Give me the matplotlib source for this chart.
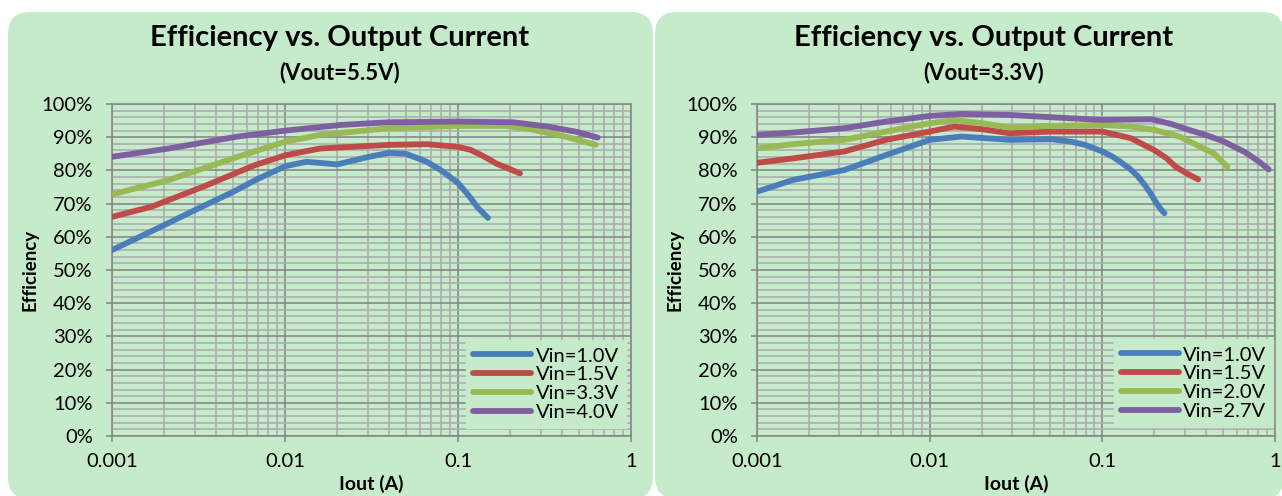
import numpy as np
import matplotlib.pyplot as plt
import matplotlib.transforms as mtransforms
from matplotlib.patches import FancyBboxPatch
from matplotlib.ticker import MultipleLocator, FixedLocator, NullFormatter

plt.rcParams['font.family'] = ['Lato', 'DejaVu Sans']

# Vout = 5.5V, efficiency (%) vs output current (A)
iout_a1 = [0.001, 0.002, 0.003, 0.005, 0.007, 0.0101, 0.0133, 0.020, 0.030, 0.040, 0.050, 0.066, 0.080, 0.100, 0.115, 0.130, 0.149]
eff_a1 = [56.0, 63.5, 68.0, 73.5, 77.5, 81.3, 82.6, 81.8, 84.0, 85.3, 85.0, 82.6, 80.0, 76.2, 72.5, 68.8, 65.7]
iout_a2 = [0.001, 0.0017, 0.00337, 0.00671, 0.0101, 0.016, 0.040, 0.066, 0.100, 0.118, 0.140, 0.166, 0.195, 0.228]
eff_a2 = [66.0, 69.1, 75.1, 81.6, 84.6, 86.6, 87.7, 87.9, 87.1, 86.2, 84.3, 82.1, 80.6, 79.1]
iout_a3 = [0.001, 0.00213, 0.00533, 0.0101, 0.016, 0.040, 0.100, 0.190, 0.262, 0.415, 0.626]
eff_a3 = [72.8, 77.1, 84.1, 88.7, 90.7, 92.7, 93.4, 93.4, 92.4, 90.2, 87.7]
iout_a4 = [0.001, 0.00213, 0.00533, 0.0101, 0.0211, 0.040, 0.100, 0.208, 0.330, 0.476, 0.641]
eff_a4 = [84.1, 86.6, 90.2, 92.0, 93.7, 94.5, 94.7, 94.5, 93.2, 91.7, 89.9]
labels_a = ['Vin=1.0V', 'Vin=1.5V', 'Vin=3.3V', 'Vin=4.0V']

# Vout = 3.3V
iout_b1 = [0.001, 0.00161, 0.0032, 0.00558, 0.010, 0.0153, 0.029, 0.051, 0.0668, 0.0805, 0.100, 0.115, 0.127, 0.145, 0.160, 0.175, 0.190, 0.205, 0.218, 0.229]
eff_b1 = [73.6, 77.1, 80.1, 84.6, 89.2, 90.2, 89.2, 89.4, 88.6, 87.6, 85.7, 84.1, 82.6, 80.4, 78.3, 75.8, 73.1, 70.3, 68.3, 67.1]
iout_b2 = [0.001, 0.00161, 0.0032, 0.00558, 0.010, 0.0139, 0.0202, 0.029, 0.051, 0.100, 0.146, 0.200, 0.235, 0.266, 0.310, 0.359]
eff_b2 = [82.3, 83.6, 85.7, 89.2, 91.7, 93.2, 92.4, 91.2, 91.7, 91.7, 89.7, 86.1, 83.7, 81.1, 79.0, 77.3]
iout_b3 = [0.001, 0.00161, 0.0032, 0.00558, 0.010, 0.014, 0.0202, 0.029, 0.051, 0.100, 0.146, 0.200, 0.279, 0.350, 0.442, 0.530]
eff_b3 = [86.6, 87.9, 89.2, 91.7, 94.2, 95.2, 94.2, 92.9, 93.4, 93.7, 93.2, 92.2, 90.2, 87.7, 85.1, 81.1]
iout_b4 = [0.001, 0.00161, 0.0032, 0.00558, 0.010, 0.0153, 0.029, 0.051, 0.100, 0.192, 0.250, 0.318, 0.400, 0.500, 0.670, 0.800, 0.920]
eff_b4 = [90.7, 91.4, 92.7, 94.7, 96.4, 97.0, 96.7, 96.0, 95.2, 95.4, 94.0, 92.2, 90.6, 88.8, 85.5, 82.8, 80.3]
labels_b = ['Vin=1.0V', 'Vin=1.5V', 'Vin=2.0V', 'Vin=2.7V']

colors = ['#4A7EBB', '#BE4B48', '#98B954', '#7D60A0']
panel_bg = '#C6EBCB'

x_ticks = [0.001, 0.01, 0.1, 1]
x_ticklabels = ['0.001', '0.01', '0.1', '1']

fig = plt.figure(figsize=(12.82, 4.96), dpi=100)

# rounded green backgrounds (pixel coordinates)
for x0, x1 in [(8, 653), (655, 1284)]:
    fig.patches.append(FancyBboxPatch((x0, -3), x1 - x0, 487,
                                      boxstyle='round,pad=0,rounding_size=22',
                                      transform=mtransforms.IdentityTransform(),
                                      facecolor=panel_bg, edgecolor='none', zorder=-10))


def draw_panel(ax, series, labels, legend_anchor):
    ax.set_facecolor('none')
    for (x, y), lab, c in zip(series, labels, colors):
        ax.plot(x, y, color=c, lw=4.2, solid_capstyle='round',
                solid_joinstyle='round', label=lab, zorder=3)
    ax.set_xscale('log')
    ax.set_xlim(0.001, 1)
    ax.set_ylim(0, 100)
    ax.set_xticks(x_ticks)
    ax.set_xticklabels(x_ticklabels)
    ax.xaxis.set_minor_locator(FixedLocator(
        [m * 10.0 ** e for e in (-3, -2, -1) for m in range(2, 10)]))
    ax.xaxis.set_minor_formatter(NullFormatter())
    ax.yaxis.set_minor_locator(MultipleLocator(2))
    ax.set_yticks(range(0, 101, 10))
    ax.set_yticklabels([f'{v}%' for v in range(0, 101, 10)])
    ax.grid(which='minor', color='#ADADAD', lw=1.2, zorder=1)
    ax.grid(which='major', color='#888888', lw=1.2, zorder=1)
    ax.tick_params(which='major', length=4.3, color='#888888', width=1.2,
                   labelsize=14.5)
    ax.tick_params(which='minor', length=0)
    ax.tick_params(axis='y', pad=9.5)
    ax.tick_params(axis='x', pad=8)
    for s in ax.spines.values():
        s.set_color('#888888')
        s.set_linewidth(1.2)
    leg = ax.legend(loc='lower right', bbox_to_anchor=legend_anchor,
                    borderaxespad=0, fontsize=14.5, handlelength=2.9,
                    handletextpad=0.2, labelspacing=0.08, borderpad=0.35,
                    fancybox=False, framealpha=1)
    leg.get_frame().set_facecolor(panel_bg)
    leg.get_frame().set_edgecolor(panel_bg)
    leg.set_zorder(5)


ax1 = fig.add_axes([112 / 1282, 60 / 496, 519 / 1282, 332 / 496])
draw_panel(ax1, [(iout_a1, eff_a1), (iout_a2, eff_a2), (iout_a3, eff_a3), (iout_a4, eff_a4)],
           labels_a, (0.99, 0.025))

ax2 = fig.add_axes([757 / 1282, 60 / 496, 518 / 1282, 332 / 496])
draw_panel(ax2, [(iout_b1, eff_b1), (iout_b2, eff_b2), (iout_b3, eff_b3), (iout_b4, eff_b4)],
           labels_b, (0.997, 0.028))

# titles and axis names
for cx, sub, ylx, xlx in [(340, '(Vout=5.5V)', 30, 371), (984, '(Vout=3.3V)', 675, 1016)]:
    fig.text(cx / 1282, (496 - 38) / 496, 'Efficiency vs. Output Current',
             ha='center', va='center', fontsize=21, fontweight='bold')
    fig.text(cx / 1282, (496 - 73) / 496, sub,
             ha='center', va='center', fontsize=16, fontweight='bold')
    fig.text(ylx / 1282, (496 - 270) / 496, 'Efficiency', rotation=90,
             ha='center', va='center', fontsize=13.5, fontweight='bold')
    fig.text(xlx / 1282, (496 - 484) / 496, 'Iout (A)',
             ha='center', va='center', fontsize=14, fontweight='bold')

fig.savefig('out.png', dpi=100, facecolor='white')
